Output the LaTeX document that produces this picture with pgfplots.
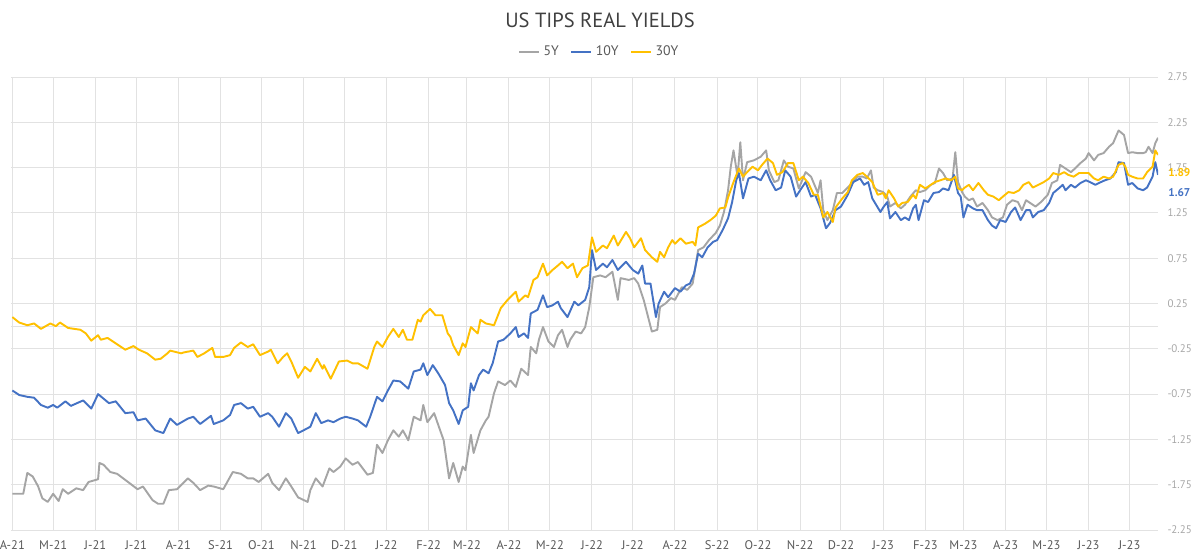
\documentclass[border=0pt]{standalone}
\usepackage{pgfplots}
\pgfplotsset{compat=1.18}
\usepackage{pgfplotstable}
\usepackage{fontspec}
\setmainfont{PT Sans}
\definecolor{c5}{HTML}{A5A5A5}
\definecolor{c10}{HTML}{4472C4}
\definecolor{c30}{HTML}{FFC000}
\definecolor{gridc}{HTML}{E2E2E2}
\definecolor{titlec}{HTML}{404040}
\definecolor{labc}{HTML}{595959}
\definecolor{ylabc}{HTML}{A6A6A6}

% x = days since 1 Apr 2021
\pgfplotstableread{
d v
0 -1.85
8 -1.85
11 -1.62
15 -1.66
19 -1.77
22 -1.90
26 -1.94
30 -1.85
34 -1.93
37 -1.80
41 -1.85
47 -1.79
52 -1.81
56 -1.72
63 -1.69
64 -1.51
67 -1.53
72 -1.61
77 -1.63
85 -1.72
92 -1.80
96 -1.77
103 -1.92
107 -1.96
111 -1.96
115 -1.81
121 -1.80
129 -1.68
133 -1.73
138 -1.81
144 -1.76
148 -1.77
155 -1.80
162 -1.61
168 -1.63
173 -1.68
177 -1.68
181 -1.72
188 -1.63
191 -1.73
196 -1.81
201 -1.68
205 -1.77
210 -1.89
217 -1.94
219 -1.81
223 -1.68
228 -1.77
233 -1.57
236 -1.61
241 -1.55
245 -1.46
250 -1.53
254 -1.50
261 -1.64
265 -1.62
268 -1.31
272 -1.40
276 -1.26
280 -1.15
284 -1.22
287 -1.15
291 -1.26
295 -1.00
300 -1.04
302 -0.87
305 -1.06
310 -0.96
313 -1.09
317 -1.26
321 -1.68
324 -1.51
328 -1.72
331 -1.55
333 -1.59
337 -1.20
339 -1.40
344 -1.15
348 -1.04
350 -1.00
354 -0.74
357 -0.61
362 -0.65
366 -0.60
370 -0.67
374 -0.47
379 -0.54
381 -0.23
385 -0.30
387 -0.15
390 -0.01
394 -0.17
398 -0.23
401 -0.10
404 -0.04
408 -0.23
410 -0.15
414 -0.06
418 -0.08
421 -0.01
424 0.21
427 0.54
432 0.56
436 0.54
441 0.60
445 0.29
447 0.53
453 0.51
457 0.53
460 0.47
464 0.29
470 -0.06
474 -0.04
476 0.21
480 0.25
484 0.31
487 0.29
492 0.43
496 0.40
500 0.47
504 0.84
508 0.87
512 0.95
517 1.03
520 1.11
523 1.26
526 1.50
528 1.76
530 1.94
533 1.65
535 2.03
537 1.61
540 1.81
545 1.83
550 1.87
554 1.94
556 1.72
560 1.59
563 1.61
567 1.83
570 1.76
574 1.74
578 1.52
583 1.70
587 1.65
592 1.47
594 1.61
596 1.28
599 1.17
603 1.28
606 1.47
610 1.47
614 1.53
616 1.56
621 1.65
625 1.65
628 1.63
631 1.72
633 1.53
636 1.50
640 1.48
643 1.43
645 1.32
649 1.36
653 1.30
656 1.34
660 1.43
664 1.50
667 1.48
671 1.50
675 1.56
678 1.58
681 1.74
684 1.69
687 1.61
691 1.63
693 1.92
695 1.59
698 1.48
700 1.43
703 1.39
706 1.41
709 1.32
713 1.36
717 1.28
720 1.20
724 1.17
728 1.20
731 1.34
735 1.39
739 1.37
742 1.28
745 1.39
748 1.36
752 1.32
756 1.37
761 1.45
764 1.58
768 1.61
770 1.78
774 1.74
778 1.70
781 1.74
785 1.80
789 1.85
791 1.91
795 1.83
798 1.89
802 1.91
806 1.98
809 2.02
813 2.16
817 2.11
820 1.91
823 1.92
827 1.91
831 1.91
833 1.92
835 1.98
838 1.91
840 2.02
842 2.08
}\fiveY

\pgfplotstableread{
d v
0 -0.71
5 -0.76
11 -0.78
16 -0.79
21 -0.87
26 -0.90
30 -0.87
33 -0.90
39 -0.83
43 -0.88
52 -0.82
58 -0.91
63 -0.75
67 -0.80
71 -0.85
76 -0.83
83 -0.96
89 -0.95
92 -1.04
98 -1.02
105 -1.15
111 -1.18
116 -1.02
121 -1.09
129 -1.02
133 -1.00
138 -1.08
146 -0.99
148 -1.08
155 -1.04
160 -0.98
163 -0.87
168 -0.85
173 -0.91
177 -0.89
182 -1.00
188 -0.96
191 -1.00
196 -1.11
201 -0.96
205 -1.02
210 -1.18
214 -1.15
219 -1.11
223 -0.96
227 -1.07
232 -1.04
236 -1.06
241 -1.02
245 -1.00
250 -1.02
254 -1.04
260 -1.11
263 -1.00
268 -0.78
272 -0.83
276 -0.71
280 -0.60
285 -0.61
291 -0.69
295 -0.50
300 -0.48
302 -0.41
305 -0.54
309 -0.43
313 -0.52
318 -0.65
321 -0.85
324 -0.93
328 -1.08
331 -0.93
335 -0.89
337 -0.63
339 -0.71
343 -0.54
346 -0.48
350 -0.52
353 -0.41
357 -0.17
361 -0.15
366 -0.08
370 -0.01
372 -0.12
376 -0.08
379 -0.13
381 0.14
386 0.18
390 0.34
393 0.21
397 0.23
401 0.27
403 0.20
408 0.10
413 0.27
416 0.23
421 0.29
424 0.43
426 0.84
429 0.62
434 0.69
437 0.65
441 0.73
445 0.62
451 0.71
456 0.62
460 0.58
463 0.67
465 0.47
469 0.47
473 0.10
475 0.25
479 0.38
482 0.32
487 0.42
491 0.38
495 0.45
498 0.47
501 0.58
504 0.80
507 0.76
511 0.87
515 0.93
518 0.95
522 1.06
526 1.19
529 1.37
532 1.61
534 1.69
537 1.41
541 1.63
545 1.65
550 1.61
554 1.72
557 1.61
561 1.50
565 1.53
568 1.72
572 1.65
576 1.43
579 1.50
583 1.59
587 1.43
590 1.45
594 1.30
598 1.08
601 1.14
605 1.28
609 1.32
614 1.45
618 1.59
623 1.63
626 1.56
629 1.59
632 1.41
634 1.36
638 1.26
640 1.31
643 1.37
645 1.19
649 1.26
653 1.17
656 1.20
659 1.17
662 1.30
664 1.34
666 1.17
670 1.39
673 1.37
677 1.47
681 1.48
684 1.52
688 1.50
692 1.67
695 1.47
697 1.43
699 1.20
702 1.34
706 1.30
709 1.28
713 1.28
717 1.17
720 1.11
723 1.08
726 1.17
730 1.15
734 1.26
737 1.31
741 1.17
745 1.28
748 1.28
750 1.20
754 1.26
758 1.28
762 1.36
765 1.47
769 1.52
772 1.56
774 1.50
778 1.56
781 1.53
785 1.58
789 1.61
792 1.59
796 1.56
800 1.59
803 1.61
807 1.63
811 1.70
813 1.81
817 1.80
820 1.56
823 1.58
827 1.52
831 1.50
834 1.53
838 1.65
840 1.81
842 1.67
}\tenY

\pgfplotstableread{
d v
0 0.10
5 0.04
11 0.01
16 0.03
21 -0.03
28 0.03
32 0.00
35 0.04
41 -0.02
50 -0.04
54 -0.08
58 -0.16
63 -0.10
65 -0.15
70 -0.13
76 -0.19
83 -0.26
89 -0.22
93 -0.26
99 -0.30
105 -0.37
109 -0.36
114 -0.30
116 -0.27
124 -0.30
126 -0.29
133 -0.27
136 -0.34
141 -0.30
147 -0.24
149 -0.34
155 -0.34
160 -0.32
163 -0.24
168 -0.18
173 -0.23
177 -0.20
182 -0.32
188 -0.28
190 -0.26
195 -0.41
199 -0.34
202 -0.30
205 -0.39
210 -0.57
215 -0.45
219 -0.50
224 -0.36
228 -0.47
229 -0.43
234 -0.58
240 -0.39
246 -0.38
250 -0.41
254 -0.41
261 -0.47
266 -0.23
268 -0.17
272 -0.23
276 -0.12
280 -0.03
284 -0.12
287 -0.04
290 -0.15
294 -0.15
298 0.07
300 0.05
302 0.12
307 0.19
311 0.12
316 0.12
320 -0.08
322 -0.12
324 -0.21
328 -0.32
331 -0.19
333 -0.23
337 -0.01
342 -0.08
344 0.07
348 0.03
354 0.01
359 0.20
364 0.29
370 0.38
372 0.27
377 0.34
379 0.32
383 0.51
386 0.54
390 0.69
393 0.56
397 0.62
401 0.67
404 0.71
408 0.64
412 0.69
415 0.54
419 0.64
423 0.67
426 0.98
429 0.82
434 0.89
437 0.86
442 1.00
445 0.89
451 1.04
454 0.97
457 0.87
462 0.97
465 0.84
470 0.76
474 0.71
476 0.82
479 0.76
482 0.87
485 0.95
487 0.91
491 0.97
495 0.91
500 0.93
502 0.89
504 1.09
509 1.13
513 1.17
517 1.22
520 1.30
524 1.31
526 1.42
530 1.59
534 1.74
537 1.65
540 1.70
544 1.76
548 1.72
551 1.78
555 1.85
559 1.80
562 1.67
566 1.70
570 1.80
574 1.80
578 1.61
581 1.65
585 1.58
589 1.45
592 1.45
596 1.20
599 1.26
603 1.15
605 1.31
610 1.41
614 1.48
617 1.61
621 1.67
625 1.69
628 1.65
632 1.59
636 1.45
640 1.47
642 1.41
644 1.50
648 1.41
651 1.32
654 1.36
658 1.37
662 1.45
664 1.41
667 1.56
671 1.52
675 1.56
678 1.59
682 1.61
686 1.63
690 1.61
693 1.65
695 1.52
698 1.50
700 1.53
703 1.56
706 1.50
710 1.58
714 1.50
717 1.45
721 1.43
725 1.39
728 1.43
732 1.48
736 1.47
740 1.50
743 1.56
747 1.59
750 1.53
754 1.56
758 1.59
762 1.63
765 1.69
769 1.67
773 1.70
776 1.67
780 1.65
784 1.69
787 1.69
791 1.69
795 1.63
798 1.61
802 1.65
806 1.63
809 1.65
813 1.78
816 1.80
818 1.76
820 1.67
823 1.65
827 1.63
831 1.63
834 1.70
838 1.76
840 1.94
842 1.89
}\thirtyY

\begin{document}
\begin{tikzpicture}[x=1pt,y=1pt]
\path[use as bounding box] (0,0) rectangle (720,334.8);
\begin{axis}[
  at={(6.6pt,16.8pt)}, anchor=south west,
  scale only axis, width=688.2pt, height=271.8pt,
  xmin=-1, xmax=842, ymin=-2.25, ymax=2.75,
  clip mode=individual,
  axis line style={draw=none},
  xtick={0,30,61,91,122,153,183,214,244,275,306,334,365,395,426,456,487,518,548,579,609,640,671,699,730,760,791,821},
  xticklabels={A-21,M-21,J-21,J-21,A-21,S-21,O-21,N-21,D-21,J-22,F-22,M-22,A-22,M-22,J-22,J-22,A-22,S-22,O-22,N-22,D-22,J-23,F-23,M-23,A-23,M-23,J-23,J-23},
  ytick={-2.25,-1.75,-1.25,-0.75,-0.25,0.25,0.75,1.25,1.75,2.25,2.75},
  yticklabels={-2.25,-1.75,-1.25,-0.75,-0.25,0.25,0.75,1.25,1.75,2.25,2.75},
  extra y ticks={0}, extra y tick labels={},
  extra y tick style={grid=major},
  grid=major, grid style={gridc, line width=0.6pt},
  major tick length=0pt,
  yticklabel pos=right,
  yticklabel style={font=\fontsize{6.6}{7}\selectfont, text=ylabc, anchor=west, inner sep=0pt, xshift=5.5pt},
  xticklabel style={font=\fontsize{7.5}{8}\selectfont, text=labc, anchor=north, inner sep=0pt, yshift=-6pt},
  legend style={at={(0.5135,1.0552)}, anchor=center, draw=none, fill=none,
    legend columns=3, font=\fontsize{8.3}{9}\selectfont, text=labc, inner sep=0pt,
    /tikz/every even column/.append style={column sep=5pt}},
  legend image code/.code={\draw[#1] (0pt,0pt) -- (12pt,0pt);},
  every axis plot/.append style={line width=1.15pt, line join=round},
]
\addplot[c5, no markers] table[x=d,y=v] {\fiveY};
\addlegendentry{5Y}
\addplot[c10, no markers] table[x=d,y=v] {\tenY};
\addlegendentry{10Y}
\addplot[c30, no markers] table[x=d,y=v] {\thirtyY};
\addlegendentry{30Y}
\end{axis}
\node[anchor=west, inner sep=0pt, font=\bfseries\fontsize{6.8}{7}\selectfont, text=c30] at (700.8,231.3) {1.89};
\node[anchor=west, inner sep=0pt, font=\bfseries\fontsize{6.8}{7}\selectfont, text=c10] at (700.8,219.2) {1.67};
\node[font=\fontsize{12.3}{14}\selectfont, text=titlec] at (360,322.8) {US TIPS REAL YIELDS};
\end{tikzpicture}
\end{document}
